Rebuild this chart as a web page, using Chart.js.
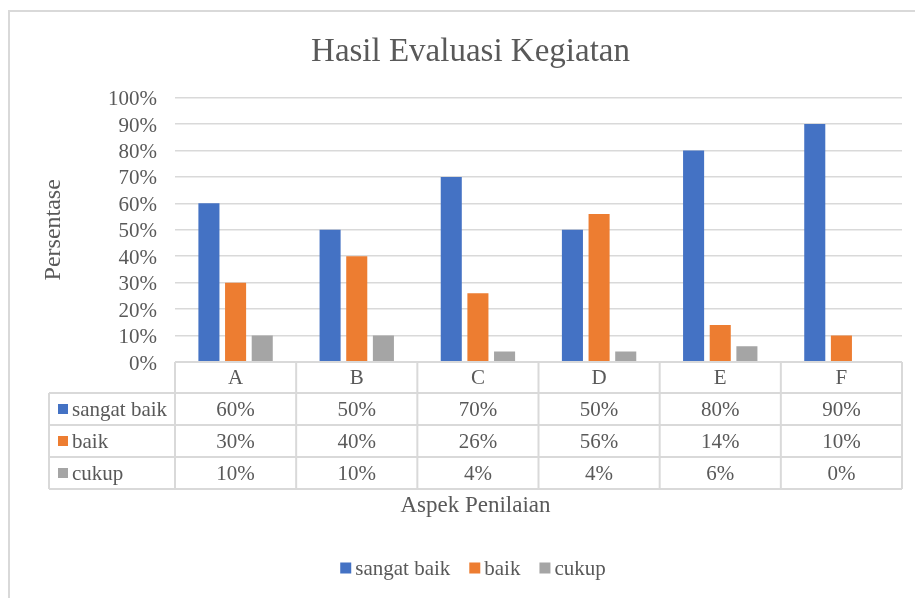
<!DOCTYPE html>
<html><head><meta charset="utf-8">
<script src="https://cdn.jsdelivr.net/npm/chart.js@4.4.1/dist/chart.umd.min.js"></script>
<style>
html,body{margin:0;padding:0;background:#fff;overflow:hidden;width:915px;height:598px;}
#frame{position:absolute;left:8px;top:10px;width:1000px;height:1000px;border:2px solid #d9d9d9;box-sizing:border-box;}
#wrap{position:absolute;left:0;top:0;width:915px;height:598px;}
</style></head><body>
<div id="frame"></div>
<div id="wrap"><canvas id="c" width="915" height="598"></canvas></div>
<script>
const categories = ['A', 'B', 'C', 'D', 'E', 'F'];
const seriesNames = ['sangat baik', 'baik', 'cukup'];
const sangatBaik = [60, 50, 70, 50, 80, 90];
const baik = [30, 40, 26, 56, 14, 10];
const cukup = [10, 10, 4, 4, 6, 0];
const colors = ['#4472C4', '#ED7D31', '#A5A5A5'];
const chartTitle = 'Hasil Evaluasi Kegiatan';
const yTitle = 'Persentase';
const xTitle = 'Aspek Penilaian';

const FONT = '"Liberation Serif", "Times New Roman", serif';
const TXT = '#595959';
const LINE = '#d9d9d9';

const tablePlugin = {
  id: 'dataTable',
  afterDraw(chart) {
    const { ctx, chartArea, scales: { x } } = chart;
    const n = categories.length;
    const cw = (x.right - x.left) / n;
    const top = chartArea.bottom;
    const rowsY = [top, top + 31, top + 63, top + 95, top + 127];
    const labelLeft = 49;
    ctx.save();
    ctx.strokeStyle = LINE;
    ctx.lineWidth = 2;
    const line = (x1, y1, x2, y2) => { ctx.beginPath(); ctx.moveTo(x1, y1); ctx.lineTo(x2, y2); ctx.stroke(); };
    line(x.left, rowsY[0], x.right, rowsY[0]);
    for (let r = 1; r < rowsY.length; r++) line(labelLeft, rowsY[r], x.right, rowsY[r]);
    line(labelLeft, rowsY[1], labelLeft, rowsY[4]);
    for (let i = 0; i <= n; i++) { const xx = x.left + i * cw; line(xx, rowsY[0], xx, rowsY[4]); }

    ctx.font = '21px ' + FONT;
    ctx.fillStyle = TXT;
    ctx.textAlign = 'center';
    ctx.textBaseline = 'middle';
    categories.forEach((c, i) => ctx.fillText(c, x.getPixelForValue(i), (rowsY[0] + rowsY[1]) / 2 + 1));
    chart.data.datasets.forEach((ds, r) => {
      const cy = (rowsY[r + 1] + rowsY[r + 2]) / 2 + 1;
      ctx.textAlign = 'center';
      ctx.fillStyle = TXT;
      ds.data.forEach((v, i) => ctx.fillText(v + '%', x.getPixelForValue(i), cy));
      ctx.fillStyle = ds.backgroundColor;
      ctx.fillRect(58, cy - 6, 10, 10);
      ctx.fillStyle = TXT;
      ctx.textAlign = 'left';
      ctx.fillText(ds.label, 72, cy);
    });

    // x axis title
    ctx.textAlign = 'center';
    ctx.font = '23px ' + FONT;
    ctx.fillText(xTitle, (labelLeft + x.right) / 2, 506);

    // legend
    ctx.font = '21px ' + FONT;
    const box = 11, gapT = 4, gapI = 19;
    const widths = chart.data.datasets.map(ds => box + gapT + ctx.measureText(ds.label).width);
    const total = widths.reduce((a, b) => a + b, 0) + gapI * (widths.length - 1);
    let lx = 473 - total / 2;
    const ly = 569;
    ctx.textAlign = 'left';
    chart.data.datasets.forEach((ds, i) => {
      ctx.fillStyle = ds.backgroundColor;
      ctx.fillRect(lx, ly - box / 2 - 1, box, box);
      ctx.fillStyle = TXT;
      ctx.fillText(ds.label, lx + box + gapT, ly);
      lx += widths[i] + gapI;
    });
    ctx.restore();
  }
};

new Chart(document.getElementById('c'), {
  type: 'bar',
  data: {
    labels: categories,
    datasets: [
      { label: seriesNames[0], data: sangatBaik, backgroundColor: colors[0] },
      { label: seriesNames[1], data: baik, backgroundColor: colors[1] },
      { label: seriesNames[2], data: cukup, backgroundColor: colors[2] }
    ]
  },
  options: {
    responsive: false,
    animation: false,
    devicePixelRatio: 1,
    categoryPercentage: 0.66,
    barPercentage: 0.79,
    layout: { padding: { left: 39, right: 13, top: 0, bottom: 236 } },
    plugins: {
      legend: { display: false },
      tooltip: { enabled: false },
      title: {
        display: true,
        text: chartTitle,
        color: TXT,
        font: { family: FONT, size: 33, weight: 'normal' },
        padding: { top: 33, bottom: 25 }
      }
    },
    scales: {
      x: {
        display: false
      },
      y: {
        min: 0,
        max: 100,
        afterFit(scale) { scale.width = 136; },
        ticks: {
          stepSize: 10,
          autoSkip: false,
          labelOffset: 2,
          callback: v => v + '%',
          color: TXT,
          padding: 18,
          font: { family: FONT, size: 21 }
        },
        grid: { color: LINE, lineWidth: 1.5, drawTicks: false },
        border: { display: false },
        title: {
          display: true,
          text: yTitle,
          color: TXT,
          padding: 0,
          font: { family: FONT, size: 24 }
        }
      }
    }
  },
  plugins: [tablePlugin]
});
</script>
</body></html>
